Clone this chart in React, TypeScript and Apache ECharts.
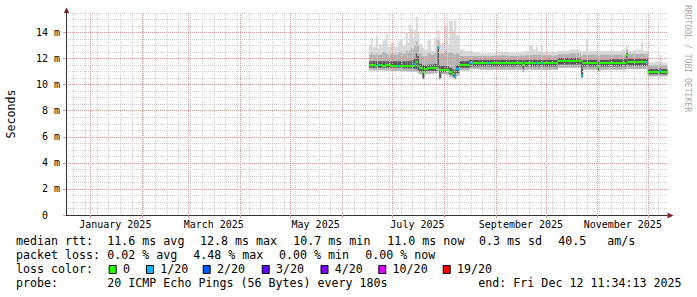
import React, { useEffect, useRef } from 'react';
import * as echarts from 'echarts';

const END_TIME = Date.UTC(2025, 11, 12, 11, 34, 13);
const START_TIME = Date.UTC(2024, 11, 17, 11, 34, 13);

const xLabelDates = ['2025-01-16', '2025-03-16', '2025-05-16', '2025-07-16', '2025-09-16', '2025-11-16'];
const xLabelTexts = ['January 2025', 'March 2025', 'May 2025', 'July 2025', 'September 2025', 'November 2025'];
const monthStartDates = ['2025-01-01', '2025-02-01', '2025-03-01', '2025-04-01', '2025-05-01', '2025-06-01',
  '2025-07-01', '2025-08-01', '2025-09-01', '2025-10-01', '2025-11-01', '2025-12-01'];
const yTickValues = [0, 2, 4, 6, 8, 10, 12, 14];

// segments: each starts at segDates[i] and lasts until the next one (last one until END_TIME)
const segDates = [
  '2025-06-17', '2025-06-18', '2025-06-19', '2025-06-21', '2025-06-22', '2025-06-23', '2025-06-25', '2025-06-27',
  '2025-06-28', '2025-06-30', '2025-07-02', '2025-07-04', '2025-07-05', '2025-07-07', '2025-07-09', '2025-07-10',
  '2025-07-11', '2025-07-12', '2025-07-13', '2025-07-14', '2025-07-15', '2025-07-16', '2025-07-17', '2025-07-19',
  '2025-07-20', '2025-07-22', '2025-07-24', '2025-07-26', '2025-07-28', '2025-07-29', '2025-07-30', '2025-08-01',
  '2025-08-02', '2025-08-03', '2025-08-04', '2025-08-06', '2025-08-07', '2025-08-08', '2025-08-10', '2025-08-13',
  '2025-08-16', '2025-08-18', '2025-08-22', '2025-08-27', '2025-08-28', '2025-09-03', '2025-09-09', '2025-09-15',
  '2025-09-17', '2025-09-18', '2025-09-21', '2025-09-23', '2025-09-25', '2025-09-26', '2025-09-28', '2025-09-29',
  '2025-10-08', '2025-10-15', '2025-10-21', '2025-10-22', '2025-10-23', '2025-10-25', '2025-10-26', '2025-11-01',
  '2025-11-02', '2025-11-08', '2025-11-16', '2025-11-18', '2025-11-19', '2025-11-23', '2025-11-27', '2025-11-28',
  '2025-11-30', '2025-12-01', '2025-12-05', '2025-12-08', '2025-12-09',
];
const medianMs = [
  11.50, 11.50, 11.50, 11.45, 11.50, 11.50, 11.45, 11.50,
  11.50, 11.45, 11.45, 11.45, 11.45, 11.40, 11.40, 11.40,
  11.40, 11.40, 11.45, 11.60, 11.75, 11.45, 11.25, 10.95,
  11.20, 11.25, 11.25, 11.30, 12.80, 11.15, 11.15, 11.10,
  11.10, 11.10, 10.95, 10.80, 10.70, 11.20, 11.50, 11.50,
  11.70, 11.65, 11.65, 11.65, 11.65, 11.65, 11.65, 11.65,
  11.50, 11.65, 11.65, 11.65, 11.65, 11.65, 11.65, 11.65,
  11.80, 11.80, 11.80, 10.75, 11.65, 11.65, 11.65, 11.35,
  11.65, 11.70, 11.70, 12.30, 11.75, 11.75, 11.75, 11.75,
  11.75, 11.00, 11.00, 11.05, 11.00,
];
const lossCount = [
  0, 0, 0, 0, 1, 0, 0, 0,
  0, 0, 0, 1, 0, 0, 0, 0,
  0, 0, 0, 1, 0, 0, 0, 0,
  0, 0, 0, 0, 1, 0, 0, 0,
  0, 0, 0, 0, 1, 1, 0, 0,
  1, 0, 0, 1, 0, 0, 0, 0,
  0, 0, 0, 0, 1, 0, 1, 0,
  0, 0, 0, 1, 0, 0, 0, 0,
  0, 0, 0, 0, 0, 0, 0, 0,
  1, 0, 0, 1, 0,
];
const smokeLo = [
  11.10, 11.10, 11.10, 11.10, 11.10, 11.10, 11.10, 11.10,
  11.10, 11.05, 11.05, 11.05, 11.05, 11.05, 11.00, 11.00,
  11.00, 11.00, 11.00, 11.00, 11.00, 10.90, 10.80, 10.40,
  10.80, 10.85, 10.85, 10.90, 11.00, 10.40, 10.80, 10.80,
  10.75, 10.75, 10.60, 10.45, 10.40, 10.70, 11.10, 11.10,
  11.20, 11.20, 11.15, 11.15, 11.15, 11.15, 11.15, 11.15,
  11.00, 11.15, 11.15, 11.15, 11.15, 11.15, 11.15, 11.15,
  11.30, 11.30, 11.30, 10.50, 11.15, 11.15, 11.15, 11.00,
  11.15, 11.15, 11.15, 11.20, 11.20, 11.20, 11.20, 11.20,
  11.20, 10.65, 10.65, 10.65, 10.65,
];
const smokeDarkLo = [
  11.30, 11.30, 11.30, 11.30, 11.30, 11.30, 11.30, 11.30,
  11.30, 11.30, 11.30, 11.30, 11.30, 11.25, 11.25, 11.25,
  11.25, 11.25, 11.25, 11.20, 11.20, 11.10, 11.00, 10.50,
  11.00, 11.05, 11.05, 11.05, 11.30, 10.50, 10.95, 10.95,
  10.95, 10.95, 10.80, 10.65, 10.55, 10.90, 11.30, 11.30,
  11.35, 11.40, 11.40, 11.40, 11.40, 11.40, 11.40, 11.40,
  11.20, 11.40, 11.40, 11.40, 11.40, 11.40, 11.40, 11.40,
  11.55, 11.55, 11.55, 10.60, 11.40, 11.40, 11.40, 11.10,
  11.40, 11.40, 11.40, 11.50, 11.45, 11.45, 11.45, 11.45,
  11.45, 10.80, 10.80, 10.80, 10.80,
];
const smokeDarkHi = [
  11.80, 11.80, 11.80, 11.80, 11.80, 11.80, 11.80, 11.80,
  11.80, 11.80, 11.80, 11.80, 11.80, 11.80, 11.80, 11.80,
  11.85, 11.85, 11.90, 12.00, 12.40, 12.20, 11.60, 11.50,
  11.50, 11.55, 11.55, 11.60, 12.95, 11.50, 11.45, 11.45,
  11.45, 11.45, 11.30, 11.20, 11.10, 11.50, 11.80, 11.80,
  11.90, 11.90, 11.90, 11.90, 11.90, 11.90, 11.90, 11.90,
  11.90, 11.90, 11.90, 11.90, 11.90, 11.90, 11.90, 11.90,
  12.05, 12.05, 12.05, 11.80, 11.90, 11.90, 11.90, 11.80,
  11.90, 11.95, 11.95, 12.45, 12.00, 12.00, 12.00, 12.00,
  12.00, 11.20, 11.20, 11.25, 11.20,
];
const smokeMidHi = [
  12.30, 12.40, 12.30, 12.40, 12.30, 12.30, 12.50, 12.40,
  12.30, 12.40, 12.30, 12.40, 12.50, 12.40, 12.60, 12.50,
  12.60, 12.80, 12.70, 13.00, 13.30, 13.00, 12.40, 12.20,
  12.20, 12.40, 12.30, 12.50, 13.40, 12.30, 12.40, 12.50,
  12.60, 12.40, 12.50, 12.40, 12.30, 12.40, 12.20, 12.20,
  12.20, 12.20, 12.20, 12.20, 12.20, 12.25, 12.20, 12.25,
  12.20, 12.25, 12.30, 12.30, 12.30, 12.30, 12.30, 12.25,
  12.35, 12.40, 12.40, 12.20, 12.30, 12.30, 12.30, 12.20,
  12.30, 12.30, 12.30, 12.70, 12.35, 12.35, 12.40, 12.35,
  12.35, 11.50, 11.50, 11.60, 11.50,
];
const smokeHi = [
  13.00, 13.60, 12.90, 13.70, 12.80, 13.10, 13.40, 13.90,
  12.90, 13.20, 12.90, 13.30, 13.50, 13.00, 14.00, 13.20,
  14.60, 14.30, 13.60, 14.20, 15.20, 14.00, 13.10, 12.80,
  12.70, 13.40, 12.60, 13.60, 14.20, 13.00, 13.20, 14.50,
  14.70, 13.10, 14.90, 14.20, 15.00, 13.80, 12.70, 12.60,
  12.60, 12.50, 12.40, 12.50, 12.40, 12.50, 12.45, 12.50,
  12.50, 12.60, 13.00, 12.70, 12.90, 12.60, 13.00, 12.50,
  12.60, 12.70, 12.60, 12.50, 12.60, 13.50, 12.60, 12.50,
  12.60, 12.60, 12.70, 13.00, 12.60, 12.70, 13.30, 12.60,
  12.60, 11.70, 11.80, 12.30, 11.70,
];

const lossLegendLabels = ['0', '1/20', '2/20', '3/20', '4/20', '10/20', '19/20'];
const lossLegendCounts = [0, 1, 2, 3, 4, 10, 19];
const lossLegendColors = ['#26ff00', '#00b8ff', '#0059ff', '#5e00ff', '#7e00ff', '#dd00ff', '#ff0000'];

const FONT = '"DejaVu Sans Mono", monospace';
const DAY = 86400000;

function lossColor(n: number): string {
  let c = lossLegendColors[0];
  for (let i = 0; i < lossLegendCounts.length; i++) {
    if (n >= lossLegendCounts[i]) c = lossLegendColors[i];
  }
  return c;
}

export default function App() {
  const ref = useRef<HTMLDivElement>(null);
  useEffect(() => {
    document.body.style.margin = '0';
    const chart = echarts.init(ref.current!, null, { renderer: 'svg' });

    const starts = segDates.map((d) => Date.parse(d));
    const ends = starts.slice(1).concat([END_TIME]);
    const smokeData = starts.map((s, i) => [s, ends[i], smokeLo[i], smokeDarkLo[i], smokeDarkHi[i], smokeMidHi[i], smokeHi[i]]);
    const medianData = starts.map((s, i) => [s, ends[i], medianMs[i], lossCount[i]]);

    const monthStarts = monthStartDates.map((d) => Date.parse(d));
    const labelTs = xLabelDates.map((d) => Date.parse(d));
    const sundays: number[] = [];
    for (let t = Date.UTC(2024, 11, 22); t < END_TIME; t += 7 * DAY) sundays.push(t);

    const text = (x: number, y: number, s: string, extra: any = {}) => ({
      type: 'text', x, y, silent: true,
      style: { text: s, fontSize: 11.65, fontFamily: FONT, fill: '#000', align: 'left', verticalAlign: 'middle', ...extra },
    });

    const lineY = [241.3, 255.3, 269.3, 283.3];
    const boxX = [108.7, 146, 202.7, 261.7, 320.5, 378.3, 442.7];

    const graphics: any[] = [
      { type: 'polygon', silent: true, shape: { points: [[63.8, 13], [69.2, 13], [66.5, 7.5]] }, style: { fill: '#7f1f1f' } },
      { type: 'polygon', silent: true, shape: { points: [[667.5, 212.8], [667.5, 218.2], [673.5, 215.5]] }, style: { fill: '#7f1f1f' } },
      { type: 'text', x: 11, y: 114, rotation: Math.PI / 2, silent: true,
        style: { text: 'Seconds', fontSize: 11.65, fontFamily: FONT, fill: '#000', align: 'center', verticalAlign: 'middle' } },
      { type: 'text', x: 688, y: 58.5, rotation: -Math.PI / 2, silent: true,
        style: { text: 'RRDTOOL / TOBI OETIKER', fontSize: 8.1, fontFamily: FONT, fill: '#aaaaaa', align: 'center', verticalAlign: 'middle' } },
      text(16, lineY[0], 'median rtt:'),
      text(107.3, lineY[0], '11.6 ms avg'),
      text(200, lineY[0], '12.8 ms max'),
      text(293.3, lineY[0], '10.7 ms min'),
      text(387.3, lineY[0], '11.0 ms now'),
      text(479, lineY[0], '0.3 ms sd'),
      text(558.3, lineY[0], '40.5'),
      text(607.3, lineY[0], 'am/s'),
      text(16, lineY[1], 'packet loss:'),
      text(107.3, lineY[1], '0.02 % avg'),
      text(193.3, lineY[1], '4.48 % max'),
      text(279, lineY[1], '0.00 % min'),
      text(365.3, lineY[1], '0.00 % now'),
      text(16, lineY[2], 'loss color:'),
      text(16, lineY[3], 'probe:'),
      text(107.3, lineY[3], '20 ICMP Echo Pings (56 Bytes) every 180s'),
      text(478.3, lineY[3], 'end: Fri Dec 12 11:34:13 2025'),
    ];
    lossLegendLabels.forEach((lab, i) => {
      graphics.push({ type: 'rect', silent: true, shape: { x: boxX[i] + 0.5, y: 265.5, width: 7, height: 8 },
        style: { fill: lossLegendColors[i], stroke: '#000', lineWidth: 1 } });
      graphics.push(text(boxX[i] + 14.3, lineY[2], lab));
    });

    const option: any = {
      animation: false,
      backgroundColor: '#ffffff',
      grid: { left: 66, right: 30, top: 13, bottom: 82, outerBoundsMode: 'none', containLabel: false },
      xAxis: [
        {
          type: 'value', min: START_TIME, max: END_TIME, position: 'bottom', z: 4,
          axisLine: { show: true, onZero: false, lineStyle: { color: '#333333', width: 1 } },
          axisTick: { show: true, customValues: monthStarts, length: 3, lineStyle: { color: '#e39696' } },
          axisLabel: {
            show: true, customValues: labelTs, margin: 4, fontSize: 10, fontFamily: FONT, color: '#000',
            formatter: (v: number) => { const i = labelTs.indexOf(v); return i >= 0 ? xLabelTexts[i] : ''; },
          },
          splitLine: { show: true, lineStyle: { color: '#e39696', type: [1, 1], width: 1 } },
        },
        {
          type: 'value', min: START_TIME, max: END_TIME, position: 'bottom', z: 3,
          axisLine: { show: false }, axisLabel: { show: false },
          axisTick: { show: false, customValues: sundays },
          splitLine: { show: true, lineStyle: { color: '#cfcfcf', type: [1, 1], width: 1 } },
        },
      ],
      yAxis: [
        {
          type: 'value', min: 0, max: 15.5, interval: 2, position: 'left', z: 4,
          axisLine: { show: true, onZero: false, lineStyle: { color: '#333333', width: 1 } },
          axisTick: { show: true, customValues: yTickValues, length: 3, lineStyle: { color: '#e39696' } },
          axisLabel: {
            show: true, customValues: yTickValues, margin: 6, fontSize: 10, fontFamily: FONT, color: '#000',
            formatter: (v: number) => (v === 0 ? '{z|0}' : `${v} m`),
            rich: { z: { fontSize: 10, fontFamily: FONT, color: '#000', padding: [0, 12, 0, 0] } },
          },
          splitLine: { show: true, lineStyle: { color: '#e39696', type: [1, 1], width: 1 } },
        },
        {
          type: 'value', min: 0, max: 15.5, interval: 0.5, position: 'left', z: 3,
          axisLine: { show: false }, axisTick: { show: false }, axisLabel: { show: false },
          splitLine: { show: true, lineStyle: { color: '#cfcfcf', type: [1, 1], width: 1 } },
        },
      ],
      series: [
        {
          type: 'custom', name: 'smoke', xAxisIndex: 0, yAxisIndex: 0, z: 1, silent: true,
          encode: { x: [0, 1], y: [2, 6] },
          data: smokeData,
          renderItem: (params: any, api: any) => {
            const x0 = api.coord([api.value(0), 0])[0];
            const x1 = api.coord([api.value(1), 0])[0];
            const yy = (v: number) => api.coord([api.value(0), v])[1];
            const w = x1 - x0 + 0.4;
            const band = (a: number, b: number, fill: string) => ({
              type: 'rect', shape: { x: x0, y: yy(b), width: w, height: yy(a) - yy(b) }, style: { fill },
            });
            return {
              type: 'group',
              children: [
                band(api.value(2), api.value(6), '#dadada'),
                band(api.value(2), api.value(5), '#b2b2b2'),
                band(api.value(3), api.value(4), '#575757'),
              ],
            };
          },
        },
        {
          type: 'custom', name: 'median rtt', xAxisIndex: 0, yAxisIndex: 0, z: 10, silent: true,
          encode: { x: [0, 1], y: 2 },
          data: medianData,
          renderItem: (params: any, api: any) => {
            const p0 = api.coord([api.value(0), api.value(2)]);
            const p1 = api.coord([api.value(1), api.value(2)]);
            const yc = Math.round(p0[1]);
            return {
              type: 'rect', z2: 10,
              shape: { x: p0[0], y: yc - 1, width: p1[0] - p0[0] + 0.3, height: 2 },
              style: { fill: lossColor(api.value(3)) },
            };
          },
        },
      ],
      graphic: graphics,
    };
    chart.setOption(option);
    return () => chart.dispose();
  }, []);
  return <div ref={ref} style={{ width: 697, height: 297 }} />;
}
